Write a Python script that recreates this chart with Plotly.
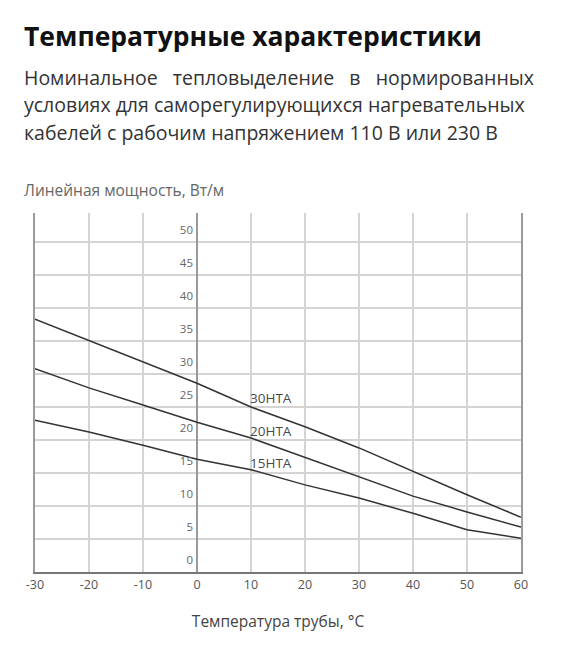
import plotly.graph_objects as go

# температура трубы, °C
temps = [-30, -20, -10, 0, 10, 20, 30, 40, 50, 60]

# линейная мощность, Вт/м
p30 = [38.3, 35.1, 31.8, 28.6, 25.0, 22.0, 18.8, 15.2, 11.7, 8.3]
p20 = [30.8, 27.9, 25.3, 22.7, 20.3, 17.4, 14.5, 11.5, 9.1, 6.8]
p15 = [23.0, 21.2, 19.2, 17.1, 15.5, 13.2, 11.2, 8.9, 6.4, 5.1]

names = ['30НТА', '20НТА', '15НТА']
label_y = [26.3, 21.3, 16.5]

x_ticks = [-30, -20, -10, 0, 10, 20, 30, 40, 50, 60]
x_ticktext = ['-30', '-20', '-10', '0', '10', '20', '30', '40', '50', '60']
y_ticks = [0, 5, 10, 15, 20, 25, 30, 35, 40, 45, 50]

font = 'Open Sans'
line_color = '#333333'
grid_color = '#d4d4d4'
axis_color = '#9a9a9a'

fig = go.Figure()
for name, ys in zip(names, [p30, p20, p15]):
    fig.add_trace(go.Scatter(x=temps, y=ys, name=name, mode='lines',
                             line=dict(color=line_color, width=1.5)))

# подписи линий
for name, yy in zip(names, label_y):
    fig.add_annotation(x=10, y=yy, text=name, showarrow=False, xanchor='left',
                       yanchor='middle', xshift=-3,
                       font=dict(family=font, size=13.5, color='#4a4a4a'))

# заголовок и подзаголовок
fig.add_annotation(xref='paper', yref='paper', x=0, y=1.0, xshift=-13, yshift=177,
                   text='<b>Температурные характеристики</b>', showarrow=False,
                   xanchor='left', yanchor='middle',
                   font=dict(family=font, size=26.5, color='#111'))
sp = '\u00a0'
subtitle = ['Номинальное' + sp * 3 + 'тепловыделение' + sp * 3 + 'в' + sp * 3 + 'нормированных',
            'условиях для саморегулирующихся нагревательных',
            'кабелей с рабочим напряжением 110 В или 230 В']
for i, s in enumerate(subtitle):
    fig.add_annotation(xref='paper', yref='paper', x=0, y=1.0, xshift=-13,
                       yshift=136 - i * 27.5,
                       text=s, showarrow=False, xanchor='left', yanchor='middle',
                       font=dict(family=font, size=19.5, color='#333'))

fig.add_annotation(xref='paper', yref='paper', x=0, y=1.0, xshift=-13, yshift=23,
                   text='Линейная мощность, Вт/м', showarrow=False,
                   xanchor='left', yanchor='middle',
                   font=dict(family=font, size=15.5, color='#666'))

fig.update_layout(
    autosize=False, width=587, height=670,
    margin=dict(l=27, r=74, t=205, b=106),
    paper_bgcolor='white', plot_bgcolor='white',
    showlegend=False,
    xaxis=dict(range=[-30, 60], tickvals=x_ticks, ticktext=x_ticktext,
               showgrid=True, gridcolor=grid_color, gridwidth=1.5,
               zeroline=True, zerolinecolor=axis_color, zerolinewidth=2,
               showline=True, linecolor='#777', linewidth=2,
               ticks='', tickfont=dict(family=font, size=12.5, color='#555'),
               title=dict(text='Температура трубы, °C', standoff=24,
                          font=dict(family=font, size=15.5, color='#444'))),
    yaxis=dict(range=[0, 54.4], tickvals=y_ticks,
               anchor='free', position=1 / 3,
               showgrid=True, gridcolor=grid_color, gridwidth=1.5,
               zeroline=False, showline=False,
               ticks='', ticklabelshift=-12, ticklabelstandoff=4,
               tickfont=dict(family=font, size=11.5, color='#666')),
    yaxis2=dict(range=[0, 54.4], overlaying='y', anchor='x', side='left',
                showgrid=False, zeroline=False, showticklabels=False,
                showline=True, mirror=True, linecolor=axis_color, linewidth=2),
)

# невидимая трасса, чтобы показать рамку второй оси
fig.add_trace(go.Scatter(x=[None], y=[None], yaxis='y2', showlegend=False,
                         hoverinfo='skip'))

fig.write_html('out.html')
